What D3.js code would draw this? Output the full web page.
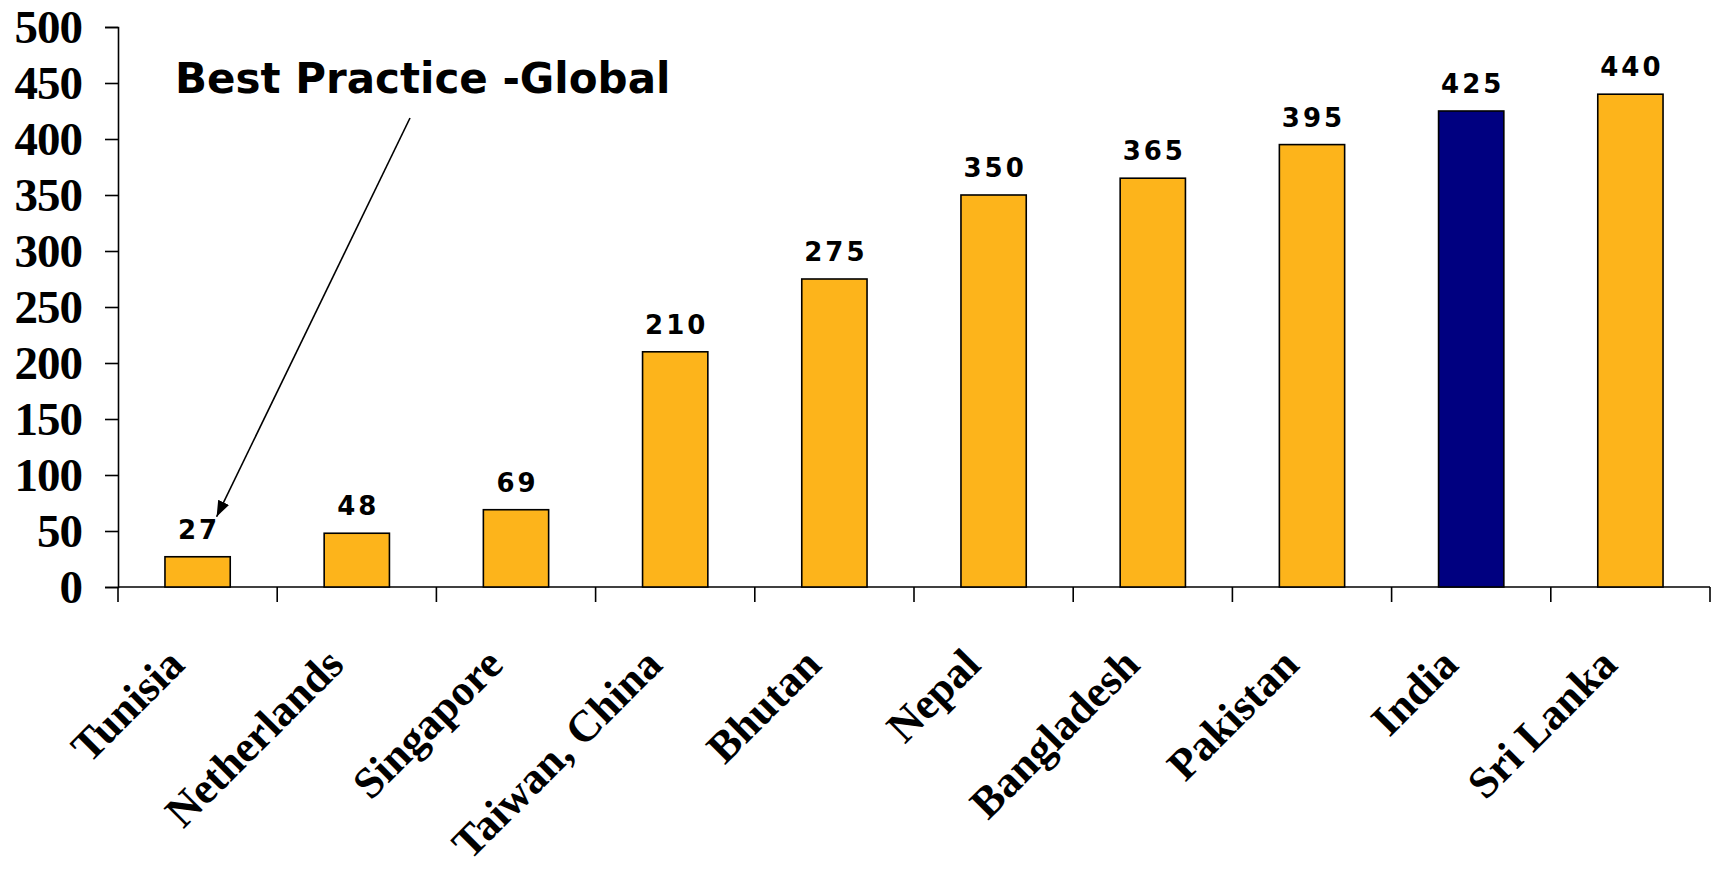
<!DOCTYPE html>
<html>
<head>
<meta charset="utf-8">
<script src="https://cdn.jsdelivr.net/npm/d3@7"></script>
<style>
  body { margin: 0; background: #fff; }
  svg { display: block; }
</style>
</head>
<body>
<div id="chart"></div>
<script>
// chart data
const countries = ["Tunisia", "Netherlands", "Singapore", "Taiwan, China", "Bhutan",
                   "Nepal", "Bangladesh", "Pakistan", "India", "Sri Lanka"];
const values = [27, 48, 69, 210, 275, 350, 365, 395, 425, 440];
const highlighted = ["India"];
const yTicks = [0, 50, 100, 150, 200, 250, 300, 350, 400, 450, 500];
const annotationText = "Best Practice -Global";
const annotationTarget = "Tunisia";

const width = 1714, height = 874;
const margin = {top: 27, right: 4, bottom: 287, left: 118};
const innerW = width - margin.left - margin.right;
const innerH = height - margin.top - margin.bottom;

const svg = d3.select("#chart").append("svg")
    .attr("width", width)
    .attr("height", height);

const g = svg.append("g")
    .attr("transform", `translate(${margin.left},${margin.top})`);

const x = d3.scaleBand()
    .domain(countries)
    .range([0, innerW]);

const y = d3.scaleLinear()
    .domain([0, 500])
    .range([innerH, 0]);

const data = countries.map((c, i) => ({country: c, value: values[i]}));

// y axis
const yAxis = g.append("g")
    .call(d3.axisLeft(y).tickValues(yTicks).tickSize(13).tickPadding(23));
yAxis.select(".domain").attr("stroke", "#000").attr("stroke-width", 1.6);
yAxis.selectAll(".tick line").attr("stroke", "#000").attr("stroke-width", 1.6);
yAxis.selectAll(".tick text")
    .attr("font-family", "'Liberation Serif', 'Times New Roman', serif")
    .attr("font-weight", "bold")
    .attr("font-size", "47px")
    .attr("letter-spacing", "-1px")
    .attr("fill", "#000")
    .attr("dy", "0.34em");

// x axis: line with ticks on band boundaries
const xAxisG = g.append("g").attr("transform", `translate(0,${innerH})`);
xAxisG.append("line")
    .attr("x1", 0).attr("x2", innerW)
    .attr("stroke", "#000").attr("stroke-width", 1.6);
const bounds = countries.map(c => x(c)).concat([x.range()[1]]);
xAxisG.selectAll(".xtick")
    .data(bounds)
    .enter().append("line")
    .attr("class", "xtick")
    .attr("x1", d => d).attr("x2", d => d)
    .attr("y1", 0).attr("y2", 15)
    .attr("stroke", "#000").attr("stroke-width", 1.6);

// category labels, rotated
xAxisG.selectAll(".xlabel")
    .data(countries)
    .enter().append("text")
    .attr("class", "xlabel")
    .attr("transform", d => `translate(${x(d) + x.bandwidth() / 2 - 11},${80}) rotate(-45)`)
    .attr("text-anchor", "end")
    .attr("font-family", "'Liberation Serif', 'Times New Roman', serif")
    .attr("font-weight", "bold")
    .attr("font-size", "44px")
    .attr("fill", "#000")
    .text(d => d);

// bars
const barW = x.bandwidth() * 0.41;
g.selectAll(".bar")
    .data(data)
    .enter().append("rect")
    .attr("class", "bar")
    .attr("x", d => x(d.country) + (x.bandwidth() - barW) / 2)
    .attr("y", d => y(d.value))
    .attr("width", barW)
    .attr("height", d => innerH - y(d.value))
    .attr("fill", d => highlighted.includes(d.country) ? "#000080" : "#FDB41B")
    .attr("stroke", "#000")
    .attr("stroke-width", 1.6);

// value labels
g.selectAll(".val")
    .data(data)
    .enter().append("text")
    .attr("class", "val")
    .attr("x", d => x(d.country) + x.bandwidth() / 2 + 1.5)
    .attr("y", d => y(d.value) - 18)
    .attr("text-anchor", "middle")
    .attr("font-family", "'DejaVu Sans', Verdana, sans-serif")
    .attr("font-weight", "bold")
    .attr("font-size", "26px")
    .attr("letter-spacing", "3px")
    .attr("fill", "#000")
    .text(d => d.value);

// annotation with arrow pointing at the best-practice bar
svg.append("defs").append("marker")
    .attr("id", "arrowhead")
    .attr("viewBox", "0 0 16 12")
    .attr("refX", 16).attr("refY", 6)
    .attr("markerWidth", 16).attr("markerHeight", 12)
    .attr("markerUnits", "userSpaceOnUse")
    .attr("orient", "auto")
    .append("path")
    .attr("d", "M0,0 L16,6 L0,12 Z")
    .attr("fill", "#000");

const target = data.find(d => d.country === annotationTarget);
const labelX = 175, labelY = 93;
svg.append("text")
    .attr("x", labelX)
    .attr("y", labelY)
    .attr("font-family", "'DejaVu Sans', Verdana, sans-serif")
    .attr("font-weight", "bold")
    .attr("font-size", "42px")
    .attr("fill", "#000")
    .text(annotationText);

svg.append("line")
    .attr("x1", labelX + 235)
    .attr("y1", labelY + 25)
    .attr("x2", margin.left + x(target.country) + x.bandwidth() / 2 + 19)
    .attr("y2", margin.top + y(target.value) - 40)
    .attr("stroke", "#000")
    .attr("stroke-width", 1.6)
    .attr("marker-end", "url(#arrowhead)");
</script>
</body>
</html>
